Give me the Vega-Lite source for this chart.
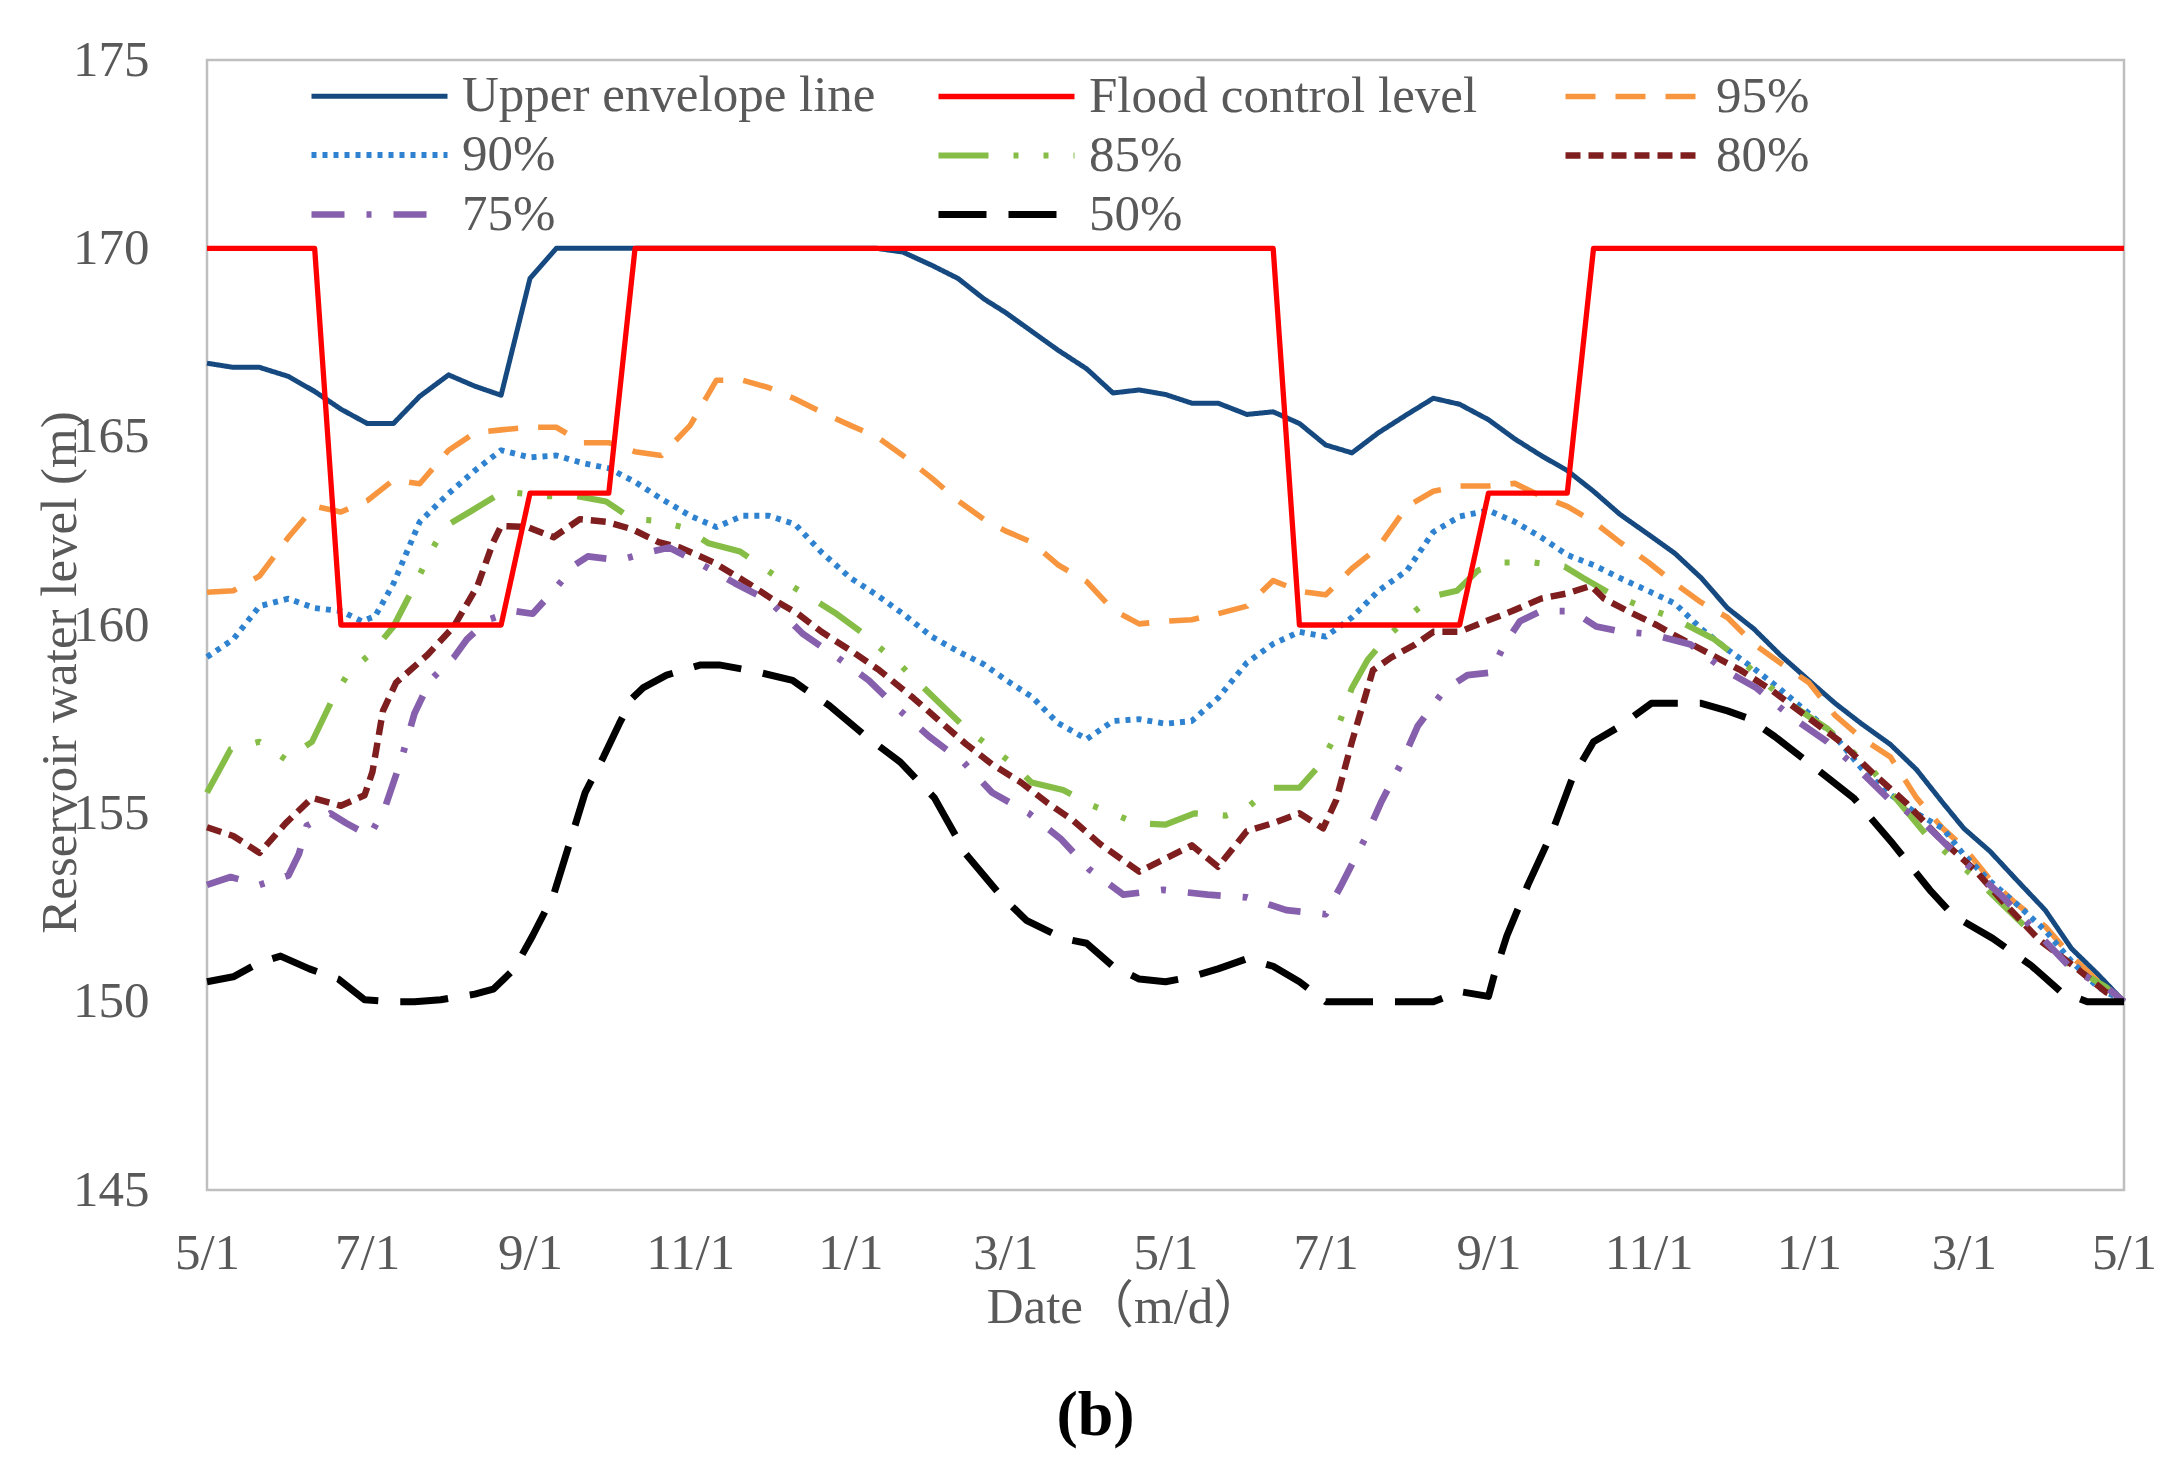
{
"$schema": "https://vega.github.io/schema/vega-lite/v6.json",
"width": 1917, "height": 1130,
"autosize": {"type": "none"},
"padding": {"left": 207, "top": 60, "right": 52, "bottom": 282},
"background": "white",
"title": {"text": "(b)", "orient": "bottom", "anchor": "middle", "frame": "bounds", "font": "Liberation Serif", "fontSize": 64, "fontWeight": "bold", "color": "#000000", "offset": 52},
"config": {
  "view": {"stroke": "#BFBFBF", "strokeWidth": 2.5},
  "axis": {"domain": false, "ticks": false, "grid": false, "labelFont": "Liberation Serif", "labelFontSize": 51, "labelColor": "#595959", "titleFont": "Liberation Serif, Noto Sans CJK SC", "titleFontSize": 51, "titleFontWeight": "normal", "titleColor": "#595959"}
},
"data": {"values": [
{"series":"Upper envelope line","date":"2021/05/01","level":166.95},
{"series":"Upper envelope line","date":"2021/05/11","level":166.84},
{"series":"Upper envelope line","date":"2021/05/21","level":166.84},
{"series":"Upper envelope line","date":"2021/06/01","level":166.6},
{"series":"Upper envelope line","date":"2021/06/11","level":166.2},
{"series":"Upper envelope line","date":"2021/06/21","level":165.73},
{"series":"Upper envelope line","date":"2021/07/01","level":165.35},
{"series":"Upper envelope line","date":"2021/07/11","level":165.35},
{"series":"Upper envelope line","date":"2021/07/21","level":166.07},
{"series":"Upper envelope line","date":"2021/08/01","level":166.64},
{"series":"Upper envelope line","date":"2021/08/11","level":166.34},
{"series":"Upper envelope line","date":"2021/08/21","level":166.1},
{"series":"Upper envelope line","date":"2021/09/01","level":169.2},
{"series":"Upper envelope line","date":"2021/09/11","level":170},
{"series":"Upper envelope line","date":"2022/01/11","level":170},
{"series":"Upper envelope line","date":"2022/01/21","level":169.9},
{"series":"Upper envelope line","date":"2022/02/01","level":169.55},
{"series":"Upper envelope line","date":"2022/02/11","level":169.2},
{"series":"Upper envelope line","date":"2022/02/21","level":168.65},
{"series":"Upper envelope line","date":"2022/03/01","level":168.3},
{"series":"Upper envelope line","date":"2022/03/11","level":167.8},
{"series":"Upper envelope line","date":"2022/03/21","level":167.3},
{"series":"Upper envelope line","date":"2022/04/01","level":166.8},
{"series":"Upper envelope line","date":"2022/04/11","level":166.16},
{"series":"Upper envelope line","date":"2022/04/21","level":166.24},
{"series":"Upper envelope line","date":"2022/05/01","level":166.12},
{"series":"Upper envelope line","date":"2022/05/11","level":165.89},
{"series":"Upper envelope line","date":"2022/05/21","level":165.89},
{"series":"Upper envelope line","date":"2022/06/01","level":165.59},
{"series":"Upper envelope line","date":"2022/06/11","level":165.66},
{"series":"Upper envelope line","date":"2022/06/21","level":165.35},
{"series":"Upper envelope line","date":"2022/07/01","level":164.78},
{"series":"Upper envelope line","date":"2022/07/11","level":164.57},
{"series":"Upper envelope line","date":"2022/07/21","level":165.1},
{"series":"Upper envelope line","date":"2022/08/01","level":165.59},
{"series":"Upper envelope line","date":"2022/08/11","level":166.02},
{"series":"Upper envelope line","date":"2022/08/21","level":165.86},
{"series":"Upper envelope line","date":"2022/09/01","level":165.45},
{"series":"Upper envelope line","date":"2022/09/11","level":164.94},
{"series":"Upper envelope line","date":"2022/09/21","level":164.5},
{"series":"Upper envelope line","date":"2022/10/01","level":164.1},
{"series":"Upper envelope line","date":"2022/10/11","level":163.55},
{"series":"Upper envelope line","date":"2022/10/21","level":162.94},
{"series":"Upper envelope line","date":"2022/11/01","level":162.4},
{"series":"Upper envelope line","date":"2022/11/11","level":161.9},
{"series":"Upper envelope line","date":"2022/11/21","level":161.25},
{"series":"Upper envelope line","date":"2022/12/01","level":160.45},
{"series":"Upper envelope line","date":"2022/12/11","level":159.9},
{"series":"Upper envelope line","date":"2022/12/21","level":159.21},
{"series":"Upper envelope line","date":"2023/01/01","level":158.53},
{"series":"Upper envelope line","date":"2023/01/11","level":157.92},
{"series":"Upper envelope line","date":"2023/01/21","level":157.38},
{"series":"Upper envelope line","date":"2023/02/01","level":156.83},
{"series":"Upper envelope line","date":"2023/02/11","level":156.16},
{"series":"Upper envelope line","date":"2023/02/21","level":155.28},
{"series":"Upper envelope line","date":"2023/03/01","level":154.6},
{"series":"Upper envelope line","date":"2023/03/11","level":153.99},
{"series":"Upper envelope line","date":"2023/03/21","level":153.24},
{"series":"Upper envelope line","date":"2023/04/01","level":152.43},
{"series":"Upper envelope line","date":"2023/04/11","level":151.41},
{"series":"Upper envelope line","date":"2023/04/21","level":150.73},
{"series":"Upper envelope line","date":"2023/05/01","level":150},
{"series":"95%","date":"2021/05/01","level":160.87},
{"series":"95%","date":"2021/05/11","level":160.91},
{"series":"95%","date":"2021/05/21","level":161.3},
{"series":"95%","date":"2021/06/01","level":162.33},
{"series":"95%","date":"2021/06/11","level":163.15},
{"series":"95%","date":"2021/06/21","level":163.0},
{"series":"95%","date":"2021/07/01","level":163.3},
{"series":"95%","date":"2021/07/11","level":163.85},
{"series":"95%","date":"2021/07/21","level":163.75},
{"series":"95%","date":"2021/08/01","level":164.64},
{"series":"95%","date":"2021/08/11","level":165.1},
{"series":"95%","date":"2021/08/21","level":165.18},
{"series":"95%","date":"2021/09/01","level":165.25},
{"series":"95%","date":"2021/09/11","level":165.25},
{"series":"95%","date":"2021/09/21","level":164.84},
{"series":"95%","date":"2021/10/01","level":164.84},
{"series":"95%","date":"2021/10/11","level":164.6},
{"series":"95%","date":"2021/10/21","level":164.5},
{"series":"95%","date":"2021/11/01","level":165.3},
{"series":"95%","date":"2021/11/11","level":166.5},
{"series":"95%","date":"2021/11/21","level":166.5},
{"series":"95%","date":"2021/12/01","level":166.3},
{"series":"95%","date":"2021/12/11","level":166.0},
{"series":"95%","date":"2021/12/21","level":165.65},
{"series":"95%","date":"2022/01/01","level":165.3},
{"series":"95%","date":"2022/01/11","level":165.0},
{"series":"95%","date":"2022/01/21","level":164.5},
{"series":"95%","date":"2022/02/01","level":163.9},
{"series":"95%","date":"2022/02/11","level":163.3},
{"series":"95%","date":"2022/02/21","level":162.8},
{"series":"95%","date":"2022/03/01","level":162.5},
{"series":"95%","date":"2022/03/11","level":162.2},
{"series":"95%","date":"2022/03/21","level":161.6},
{"series":"95%","date":"2022/04/01","level":161.15},
{"series":"95%","date":"2022/04/11","level":160.4},
{"series":"95%","date":"2022/04/21","level":160.03},
{"series":"95%","date":"2022/05/01","level":160.1},
{"series":"95%","date":"2022/05/11","level":160.14},
{"series":"95%","date":"2022/05/21","level":160.3},
{"series":"95%","date":"2022/06/01","level":160.5},
{"series":"95%","date":"2022/06/11","level":161.18},
{"series":"95%","date":"2022/06/21","level":160.9},
{"series":"95%","date":"2022/07/01","level":160.8},
{"series":"95%","date":"2022/07/11","level":161.5},
{"series":"95%","date":"2022/07/21","level":162.06},
{"series":"95%","date":"2022/08/01","level":163.15},
{"series":"95%","date":"2022/08/11","level":163.55},
{"series":"95%","date":"2022/08/21","level":163.69},
{"series":"95%","date":"2022/09/01","level":163.69},
{"series":"95%","date":"2022/09/11","level":163.76},
{"series":"95%","date":"2022/09/21","level":163.42},
{"series":"95%","date":"2022/10/01","level":163.15},
{"series":"95%","date":"2022/10/11","level":162.74},
{"series":"95%","date":"2022/10/21","level":162.2},
{"series":"95%","date":"2022/11/01","level":161.66},
{"series":"95%","date":"2022/11/11","level":161.1},
{"series":"95%","date":"2022/11/21","level":160.6},
{"series":"95%","date":"2022/12/01","level":160.2},
{"series":"95%","date":"2022/12/11","level":159.5},
{"series":"95%","date":"2022/12/21","level":159.0},
{"series":"95%","date":"2023/01/01","level":158.47},
{"series":"95%","date":"2023/01/11","level":157.6},
{"series":"95%","date":"2023/01/21","level":157.0},
{"series":"95%","date":"2023/02/01","level":156.5},
{"series":"95%","date":"2023/02/11","level":155.41},
{"series":"95%","date":"2023/02/21","level":154.6},
{"series":"95%","date":"2023/03/01","level":154.1},
{"series":"95%","date":"2023/03/11","level":153.24},
{"series":"95%","date":"2023/03/21","level":152.6},
{"series":"95%","date":"2023/04/01","level":152.0},
{"series":"95%","date":"2023/04/11","level":151.2},
{"series":"95%","date":"2023/04/21","level":150.55},
{"series":"95%","date":"2023/05/01","level":150},
{"series":"90%","date":"2021/05/01","level":159.15},
{"series":"90%","date":"2021/05/11","level":159.62},
{"series":"90%","date":"2021/05/21","level":160.5},
{"series":"90%","date":"2021/06/01","level":160.7},
{"series":"90%","date":"2021/06/11","level":160.45},
{"series":"90%","date":"2021/06/21","level":160.37},
{"series":"90%","date":"2021/06/29","level":160.1},
{"series":"90%","date":"2021/07/04","level":160.23},
{"series":"90%","date":"2021/07/11","level":161.1},
{"series":"90%","date":"2021/07/21","level":162.74},
{"series":"90%","date":"2021/08/01","level":163.49},
{"series":"90%","date":"2021/08/11","level":164.1},
{"series":"90%","date":"2021/08/21","level":164.64},
{"series":"90%","date":"2021/09/01","level":164.45},
{"series":"90%","date":"2021/09/11","level":164.5},
{"series":"90%","date":"2021/09/21","level":164.3},
{"series":"90%","date":"2021/10/01","level":164.16},
{"series":"90%","date":"2021/10/11","level":163.8},
{"series":"90%","date":"2021/10/21","level":163.35},
{"series":"90%","date":"2021/11/01","level":162.9},
{"series":"90%","date":"2021/11/11","level":162.6},
{"series":"90%","date":"2021/11/21","level":162.9},
{"series":"90%","date":"2021/12/01","level":162.9},
{"series":"90%","date":"2021/12/11","level":162.67},
{"series":"90%","date":"2021/12/21","level":161.93},
{"series":"90%","date":"2022/01/01","level":161.25},
{"series":"90%","date":"2022/01/11","level":160.8},
{"series":"90%","date":"2022/01/21","level":160.3},
{"series":"90%","date":"2022/02/01","level":159.69},
{"series":"90%","date":"2022/02/11","level":159.3},
{"series":"90%","date":"2022/02/21","level":158.95},
{"series":"90%","date":"2022/03/01","level":158.55},
{"series":"90%","date":"2022/03/11","level":158.1},
{"series":"90%","date":"2022/03/21","level":157.4},
{"series":"90%","date":"2022/04/01","level":156.97},
{"series":"90%","date":"2022/04/11","level":157.45},
{"series":"90%","date":"2022/04/21","level":157.5},
{"series":"90%","date":"2022/05/01","level":157.38},
{"series":"90%","date":"2022/05/11","level":157.45},
{"series":"90%","date":"2022/05/21","level":158.06},
{"series":"90%","date":"2022/06/01","level":159.0},
{"series":"90%","date":"2022/06/11","level":159.5},
{"series":"90%","date":"2022/06/21","level":159.82},
{"series":"90%","date":"2022/07/01","level":159.69},
{"series":"90%","date":"2022/07/11","level":160.2},
{"series":"90%","date":"2022/07/21","level":160.9},
{"series":"90%","date":"2022/08/01","level":161.45},
{"series":"90%","date":"2022/08/11","level":162.47},
{"series":"90%","date":"2022/08/21","level":162.88},
{"series":"90%","date":"2022/09/01","level":163.04},
{"series":"90%","date":"2022/09/11","level":162.74},
{"series":"90%","date":"2022/09/21","level":162.33},
{"series":"90%","date":"2022/10/01","level":161.86},
{"series":"90%","date":"2022/10/11","level":161.59},
{"series":"90%","date":"2022/10/21","level":161.25},
{"series":"90%","date":"2022/11/01","level":160.9},
{"series":"90%","date":"2022/11/11","level":160.57},
{"series":"90%","date":"2022/11/21","level":159.9},
{"series":"90%","date":"2022/12/01","level":159.35},
{"series":"90%","date":"2022/12/11","level":158.85},
{"series":"90%","date":"2022/12/21","level":158.3},
{"series":"90%","date":"2023/01/01","level":157.65},
{"series":"90%","date":"2023/01/11","level":157.04},
{"series":"90%","date":"2023/01/21","level":156.2},
{"series":"90%","date":"2023/02/01","level":155.5},
{"series":"90%","date":"2023/02/11","level":155.0},
{"series":"90%","date":"2023/02/21","level":154.6},
{"series":"90%","date":"2023/03/01","level":153.9},
{"series":"90%","date":"2023/03/11","level":153.2},
{"series":"90%","date":"2023/03/21","level":152.6},
{"series":"90%","date":"2023/04/01","level":151.89},
{"series":"90%","date":"2023/04/11","level":151.07},
{"series":"90%","date":"2023/04/21","level":150.39},
{"series":"90%","date":"2023/05/01","level":150},
{"series":"85%","date":"2021/05/01","level":155.55},
{"series":"85%","date":"2021/05/10","level":156.7},
{"series":"85%","date":"2021/05/21","level":156.9},
{"series":"85%","date":"2021/05/31","level":156.43},
{"series":"85%","date":"2021/06/10","level":156.9},
{"series":"85%","date":"2021/06/18","level":158.06},
{"series":"85%","date":"2021/06/24","level":158.74},
{"series":"85%","date":"2021/07/03","level":159.28},
{"series":"85%","date":"2021/07/11","level":159.96},
{"series":"85%","date":"2021/07/20","level":161.18},
{"series":"85%","date":"2021/07/25","level":161.93},
{"series":"85%","date":"2021/07/31","level":162.63},
{"series":"85%","date":"2021/08/09","level":163.0},
{"series":"85%","date":"2021/08/22","level":163.55},
{"series":"85%","date":"2021/08/29","level":163.49},
{"series":"85%","date":"2021/09/08","level":163.42},
{"series":"85%","date":"2021/09/19","level":163.42},
{"series":"85%","date":"2021/09/30","level":163.28},
{"series":"85%","date":"2021/10/10","level":162.81},
{"series":"85%","date":"2021/10/19","level":162.77},
{"series":"85%","date":"2021/10/29","level":162.6},
{"series":"85%","date":"2021/11/08","level":162.17},
{"series":"85%","date":"2021/11/20","level":161.95},
{"series":"85%","date":"2021/12/06","level":161.18},
{"series":"85%","date":"2021/12/16","level":160.77},
{"series":"85%","date":"2021/12/26","level":160.33},
{"series":"85%","date":"2022/01/05","level":159.82},
{"series":"85%","date":"2022/01/20","level":158.94},
{"series":"85%","date":"2022/01/29","level":158.33},
{"series":"85%","date":"2022/02/06","level":157.79},
{"series":"85%","date":"2022/02/14","level":157.25},
{"series":"85%","date":"2022/03/03","level":156.36},
{"series":"85%","date":"2022/03/11","level":155.82},
{"series":"85%","date":"2022/03/23","level":155.62},
{"series":"85%","date":"2022/04/03","level":155.21},
{"series":"85%","date":"2022/04/20","level":154.74},
{"series":"85%","date":"2022/05/01","level":154.7},
{"series":"85%","date":"2022/05/12","level":155.0},
{"series":"85%","date":"2022/05/24","level":154.94},
{"series":"85%","date":"2022/06/01","level":155.14},
{"series":"85%","date":"2022/06/10","level":155.68},
{"series":"85%","date":"2022/06/21","level":155.68},
{"series":"85%","date":"2022/06/29","level":156.3},
{"series":"85%","date":"2022/07/04","level":156.97},
{"series":"85%","date":"2022/07/11","level":158.33},
{"series":"85%","date":"2022/07/17","level":159.08},
{"series":"85%","date":"2022/07/24","level":159.65},
{"series":"85%","date":"2022/08/04","level":160.37},
{"series":"85%","date":"2022/08/11","level":160.77},
{"series":"85%","date":"2022/08/20","level":160.91},
{"series":"85%","date":"2022/08/28","level":161.45},
{"series":"85%","date":"2022/09/07","level":161.66},
{"series":"85%","date":"2022/09/18","level":161.66},
{"series":"85%","date":"2022/09/30","level":161.55},
{"series":"85%","date":"2022/10/07","level":161.25},
{"series":"85%","date":"2022/10/18","level":160.81},
{"series":"85%","date":"2022/10/29","level":160.5},
{"series":"85%","date":"2022/11/09","level":160.23},
{"series":"85%","date":"2022/11/26","level":159.62},
{"series":"85%","date":"2022/12/06","level":159.08},
{"series":"85%","date":"2022/12/23","level":157.99},
{"series":"85%","date":"2023/01/08","level":157.25},
{"series":"85%","date":"2023/01/25","level":156.16},
{"series":"85%","date":"2023/02/15","level":154.4},
{"series":"85%","date":"2023/03/05","level":153.31},
{"series":"85%","date":"2023/03/28","level":151.75},
{"series":"85%","date":"2023/04/11","level":150.94},
{"series":"85%","date":"2023/04/24","level":150.39},
{"series":"85%","date":"2023/05/01","level":150},
{"series":"80%","date":"2021/05/01","level":154.63},
{"series":"80%","date":"2021/05/11","level":154.4},
{"series":"80%","date":"2021/05/21","level":153.95},
{"series":"80%","date":"2021/05/31","level":154.74},
{"series":"80%","date":"2021/06/10","level":155.41},
{"series":"80%","date":"2021/06/21","level":155.2},
{"series":"80%","date":"2021/06/30","level":155.48},
{"series":"80%","date":"2021/07/03","level":156.1},
{"series":"80%","date":"2021/07/07","level":157.72},
{"series":"80%","date":"2021/07/12","level":158.47},
{"series":"80%","date":"2021/07/24","level":159.21},
{"series":"80%","date":"2021/08/03","level":159.96},
{"series":"80%","date":"2021/08/12","level":161.04},
{"series":"80%","date":"2021/08/18","level":162.2},
{"series":"80%","date":"2021/08/21","level":162.63},
{"series":"80%","date":"2021/08/31","level":162.6},
{"series":"80%","date":"2021/09/10","level":162.33},
{"series":"80%","date":"2021/09/20","level":162.81},
{"series":"80%","date":"2021/09/30","level":162.74},
{"series":"80%","date":"2021/10/10","level":162.54},
{"series":"80%","date":"2021/10/20","level":162.2},
{"series":"80%","date":"2021/10/28","level":162.06},
{"series":"80%","date":"2021/11/10","level":161.66},
{"series":"80%","date":"2021/11/23","level":161.11},
{"series":"80%","date":"2021/12/02","level":160.7},
{"series":"80%","date":"2021/12/12","level":160.3},
{"series":"80%","date":"2021/12/21","level":159.82},
{"series":"80%","date":"2022/01/02","level":159.28},
{"series":"80%","date":"2022/01/12","level":158.8},
{"series":"80%","date":"2022/01/25","level":158.06},
{"series":"80%","date":"2022/02/04","level":157.45},
{"series":"80%","date":"2022/02/14","level":156.84},
{"series":"80%","date":"2022/02/24","level":156.3},
{"series":"80%","date":"2022/03/07","level":155.82},
{"series":"80%","date":"2022/03/17","level":155.28},
{"series":"80%","date":"2022/03/27","level":154.8},
{"series":"80%","date":"2022/04/06","level":154.19},
{"series":"80%","date":"2022/04/21","level":153.45},
{"series":"80%","date":"2022/05/11","level":154.15},
{"series":"80%","date":"2022/05/21","level":153.58},
{"series":"80%","date":"2022/06/01","level":154.53},
{"series":"80%","date":"2022/06/11","level":154.74},
{"series":"80%","date":"2022/06/21","level":155.0},
{"series":"80%","date":"2022/06/30","level":154.6},
{"series":"80%","date":"2022/07/05","level":155.35},
{"series":"80%","date":"2022/07/11","level":156.9},
{"series":"80%","date":"2022/07/19","level":158.8},
{"series":"80%","date":"2022/07/26","level":159.14},
{"series":"80%","date":"2022/08/04","level":159.48},
{"series":"80%","date":"2022/08/11","level":159.82},
{"series":"80%","date":"2022/08/21","level":159.82},
{"series":"80%","date":"2022/08/31","level":160.1},
{"series":"80%","date":"2022/09/10","level":160.37},
{"series":"80%","date":"2022/09/21","level":160.7},
{"series":"80%","date":"2022/10/01","level":160.84},
{"series":"80%","date":"2022/10/10","level":161.04},
{"series":"80%","date":"2022/10/15","level":160.7},
{"series":"80%","date":"2022/10/24","level":160.37},
{"series":"80%","date":"2022/11/04","level":160.0},
{"series":"80%","date":"2022/11/10","level":159.76},
{"series":"80%","date":"2022/11/23","level":159.28},
{"series":"80%","date":"2022/12/06","level":158.8},
{"series":"80%","date":"2022/12/18","level":158.26},
{"series":"80%","date":"2022/12/31","level":157.58},
{"series":"80%","date":"2023/01/13","level":156.9},
{"series":"80%","date":"2023/01/25","level":156.09},
{"series":"80%","date":"2023/02/07","level":155.28},
{"series":"80%","date":"2023/02/20","level":154.33},
{"series":"80%","date":"2023/03/05","level":153.51},
{"series":"80%","date":"2023/03/17","level":152.57},
{"series":"80%","date":"2023/03/30","level":151.62},
{"series":"80%","date":"2023/04/12","level":150.94},
{"series":"80%","date":"2023/04/24","level":150.26},
{"series":"80%","date":"2023/05/01","level":150},
{"series":"75%","date":"2021/05/01","level":153.1},
{"series":"75%","date":"2021/05/10","level":153.31},
{"series":"75%","date":"2021/05/21","level":153.1},
{"series":"75%","date":"2021/06/01","level":153.35},
{"series":"75%","date":"2021/06/05","level":153.92},
{"series":"75%","date":"2021/06/08","level":154.67},
{"series":"75%","date":"2021/06/17","level":155.0},
{"series":"75%","date":"2021/06/23","level":154.74},
{"series":"75%","date":"2021/07/02","level":154.4},
{"series":"75%","date":"2021/07/08","level":155.2},
{"series":"75%","date":"2021/07/14","level":156.43},
{"series":"75%","date":"2021/07/19","level":157.65},
{"series":"75%","date":"2021/07/25","level":158.53},
{"series":"75%","date":"2021/08/03","level":159.14},
{"series":"75%","date":"2021/08/08","level":159.62},
{"series":"75%","date":"2021/08/16","level":160.14},
{"series":"75%","date":"2021/08/26","level":160.37},
{"series":"75%","date":"2021/09/02","level":160.3},
{"series":"75%","date":"2021/09/10","level":160.91},
{"series":"75%","date":"2021/09/18","level":161.59},
{"series":"75%","date":"2021/09/23","level":161.82},
{"series":"75%","date":"2021/10/05","level":161.72},
{"series":"75%","date":"2021/10/16","level":161.93},
{"series":"75%","date":"2021/10/24","level":162.06},
{"series":"75%","date":"2021/11/04","level":161.66},
{"series":"75%","date":"2021/11/18","level":161.11},
{"series":"75%","date":"2021/12/01","level":160.64},
{"series":"75%","date":"2021/12/14","level":159.76},
{"series":"75%","date":"2021/12/27","level":159.14},
{"series":"75%","date":"2022/01/08","level":158.53},
{"series":"75%","date":"2022/01/20","level":157.72},
{"series":"75%","date":"2022/01/31","level":157.04},
{"series":"75%","date":"2022/02/13","level":156.36},
{"series":"75%","date":"2022/02/24","level":155.55},
{"series":"75%","date":"2022/03/10","level":155.0},
{"series":"75%","date":"2022/03/22","level":154.33},
{"series":"75%","date":"2022/04/02","level":153.51},
{"series":"75%","date":"2022/04/15","level":152.84},
{"series":"75%","date":"2022/04/30","level":152.97},
{"series":"75%","date":"2022/05/17","level":152.84},
{"series":"75%","date":"2022/06/01","level":152.77},
{"series":"75%","date":"2022/06/16","level":152.43},
{"series":"75%","date":"2022/07/01","level":152.32},
{"series":"75%","date":"2022/07/07","level":153.1},
{"series":"75%","date":"2022/07/16","level":154.33},
{"series":"75%","date":"2022/07/22","level":155.28},
{"series":"75%","date":"2022/07/30","level":156.36},
{"series":"75%","date":"2022/08/05","level":157.31},
{"series":"75%","date":"2022/08/15","level":158.26},
{"series":"75%","date":"2022/08/24","level":158.67},
{"series":"75%","date":"2022/09/02","level":158.74},
{"series":"75%","date":"2022/09/07","level":159.48},
{"series":"75%","date":"2022/09/13","level":160.1},
{"series":"75%","date":"2022/09/21","level":160.37},
{"series":"75%","date":"2022/10/03","level":160.37},
{"series":"75%","date":"2022/10/12","level":159.96},
{"series":"75%","date":"2022/10/22","level":159.82},
{"series":"75%","date":"2022/11/02","level":159.76},
{"series":"75%","date":"2022/11/17","level":159.48},
{"series":"75%","date":"2022/11/30","level":158.8},
{"series":"75%","date":"2022/12/12","level":158.33},
{"series":"75%","date":"2022/12/25","level":157.58},
{"series":"75%","date":"2023/01/08","level":156.9},
{"series":"75%","date":"2023/01/19","level":156.23},
{"series":"75%","date":"2023/01/31","level":155.41},
{"series":"75%","date":"2023/02/15","level":154.67},
{"series":"75%","date":"2023/02/28","level":153.78},
{"series":"75%","date":"2023/03/15","level":152.84},
{"series":"75%","date":"2023/03/30","level":151.75},
{"series":"75%","date":"2023/04/12","level":150.8},
{"series":"75%","date":"2023/04/23","level":150.46},
{"series":"75%","date":"2023/05/01","level":150},
{"series":"50%","date":"2021/05/01","level":150.53},
{"series":"50%","date":"2021/05/11","level":150.66},
{"series":"50%","date":"2021/05/21","level":151.04},
{"series":"50%","date":"2021/05/29","level":151.21},
{"series":"50%","date":"2021/06/09","level":150.87},
{"series":"50%","date":"2021/06/20","level":150.6},
{"series":"50%","date":"2021/06/30","level":150.05},
{"series":"50%","date":"2021/07/11","level":150.0},
{"series":"50%","date":"2021/07/19","level":150.0},
{"series":"50%","date":"2021/07/29","level":150.05},
{"series":"50%","date":"2021/08/11","level":150.2},
{"series":"50%","date":"2021/08/18","level":150.33},
{"series":"50%","date":"2021/08/26","level":150.87},
{"series":"50%","date":"2021/09/02","level":151.75},
{"series":"50%","date":"2021/09/10","level":152.84},
{"series":"50%","date":"2021/09/16","level":154.19},
{"series":"50%","date":"2021/09/22","level":155.55},
{"series":"50%","date":"2021/09/29","level":156.5},
{"series":"50%","date":"2021/10/05","level":157.38},
{"series":"50%","date":"2021/10/10","level":158.06},
{"series":"50%","date":"2021/10/14","level":158.33},
{"series":"50%","date":"2021/10/23","level":158.67},
{"series":"50%","date":"2021/11/05","level":158.94},
{"series":"50%","date":"2021/11/12","level":158.94},
{"series":"50%","date":"2021/11/25","level":158.78},
{"series":"50%","date":"2021/12/10","level":158.53},
{"series":"50%","date":"2021/12/14","level":158.33},
{"series":"50%","date":"2021/12/24","level":157.86},
{"series":"50%","date":"2022/01/07","level":157.04},
{"series":"50%","date":"2022/01/20","level":156.36},
{"series":"50%","date":"2022/02/02","level":155.41},
{"series":"50%","date":"2022/02/14","level":153.92},
{"series":"50%","date":"2022/02/27","level":152.84},
{"series":"50%","date":"2022/03/09","level":152.16},
{"series":"50%","date":"2022/03/23","level":151.68},
{"series":"50%","date":"2022/04/01","level":151.55},
{"series":"50%","date":"2022/04/11","level":150.94},
{"series":"50%","date":"2022/04/21","level":150.6},
{"series":"50%","date":"2022/05/01","level":150.53},
{"series":"50%","date":"2022/05/11","level":150.66},
{"series":"50%","date":"2022/05/21","level":150.87},
{"series":"50%","date":"2022/06/01","level":151.14},
{"series":"50%","date":"2022/06/11","level":150.94},
{"series":"50%","date":"2022/06/21","level":150.53},
{"series":"50%","date":"2022/07/01","level":150.0},
{"series":"50%","date":"2022/08/11","level":150.0},
{"series":"50%","date":"2022/08/21","level":150.27},
{"series":"50%","date":"2022/09/01","level":150.14},
{"series":"50%","date":"2022/09/03","level":150.66},
{"series":"50%","date":"2022/09/08","level":151.75},
{"series":"50%","date":"2022/09/16","level":153.1},
{"series":"50%","date":"2022/09/25","level":154.46},
{"series":"50%","date":"2022/10/03","level":155.95},
{"series":"50%","date":"2022/10/11","level":156.9},
{"series":"50%","date":"2022/10/21","level":157.31},
{"series":"50%","date":"2022/11/02","level":157.92},
{"series":"50%","date":"2022/11/21","level":157.92},
{"series":"50%","date":"2022/12/01","level":157.72},
{"series":"50%","date":"2022/12/09","level":157.52},
{"series":"50%","date":"2022/12/19","level":157.04},
{"series":"50%","date":"2023/01/03","level":156.23},
{"series":"50%","date":"2023/01/18","level":155.41},
{"series":"50%","date":"2023/02/02","level":154.19},
{"series":"50%","date":"2023/02/16","level":152.97},
{"series":"50%","date":"2023/02/25","level":152.29},
{"series":"50%","date":"2023/03/12","level":151.68},
{"series":"50%","date":"2023/03/27","level":150.94},
{"series":"50%","date":"2023/04/07","level":150.26},
{"series":"50%","date":"2023/04/17","level":150.0},
{"series":"50%","date":"2023/05/01","level":150.0},
{"series":"Flood control level","date":"2021/05/01","level":170},
{"series":"Flood control level","date":"2021/06/11","level":170},
{"series":"Flood control level","date":"2021/06/21","level":160},
{"series":"Flood control level","date":"2021/08/21","level":160},
{"series":"Flood control level","date":"2021/09/01","level":163.5},
{"series":"Flood control level","date":"2021/10/01","level":163.5},
{"series":"Flood control level","date":"2021/10/11","level":170},
{"series":"Flood control level","date":"2022/06/11","level":170},
{"series":"Flood control level","date":"2022/06/21","level":160},
{"series":"Flood control level","date":"2022/08/21","level":160},
{"series":"Flood control level","date":"2022/09/01","level":163.5},
{"series":"Flood control level","date":"2022/10/01","level":163.5},
{"series":"Flood control level","date":"2022/10/11","level":170},
{"series":"Flood control level","date":"2023/05/01","level":170}
]},
"mark": {"type": "line", "strokeJoin": "round"},
"encoding": {
  "x": {"field": "date", "type": "temporal",
    "scale": {"domain": [{"year": 2021, "month": 5, "date": 1}, {"year": 2023, "month": 5, "date": 1}]},
    "axis": {"values": [
      {"year": 2021, "month": 5, "date": 1}, {"year": 2021, "month": 7, "date": 1}, {"year": 2021, "month": 9, "date": 1},
      {"year": 2021, "month": 11, "date": 1}, {"year": 2022, "month": 1, "date": 1}, {"year": 2022, "month": 3, "date": 1},
      {"year": 2022, "month": 5, "date": 1}, {"year": 2022, "month": 7, "date": 1}, {"year": 2022, "month": 9, "date": 1},
      {"year": 2022, "month": 11, "date": 1}, {"year": 2023, "month": 1, "date": 1}, {"year": 2023, "month": 3, "date": 1},
      {"year": 2023, "month": 5, "date": 1}],
      "format": "%-m/%-d", "labelPadding": 38, "labelOverlap": false, "labelBound": false, "labelFlush": false,
      "title": "Date（m/d）", "titlePadding": 4, "titleX": 918}},
  "y": {"field": "level", "type": "quantitative",
    "scale": {"domain": [145, 175], "nice": false, "zero": false},
    "axis": {"values": [145, 150, 155, 160, 165, 170, 175], "labelPadding": 58, "title": "Reservoir water level (m)", "titlePadding": -14, "titleY": 612}},
  "color": {"field": "series", "type": "nominal",
    "scale": {"domain": ["Upper envelope line", "Flood control level", "95%", "90%", "85%", "80%", "75%", "50%"],
      "range": ["#15497F", "#FF0000", "#F7963F", "#2E82D0", "#86BD47", "#7F1E1E", "#8660AC", "#000000"]},
    "legend": {"title": null, "orient": "none", "direction": "horizontal", "legendX": 187, "legendY": 8, "columns": 3, "gridAlign": "all",
      "columnPadding": 48, "rowPadding": 5, "padding": 0, "symbolType": "M-4.44,0H1", "symbolSize": 2500,
      "labelFont": "Liberation Serif", "labelFontSize": 51, "labelColor": "#595959", "labelOffset": 11, "labelLimit": 1000}},
  "strokeDash": {"field": "series", "type": "nominal",
    "scale": {"domain": ["Upper envelope line", "Flood control level", "95%", "90%", "85%", "80%", "75%", "50%"],
      "range": [[1, 0], [1, 0], [30, 20], [5, 6], [50, 25, 5, 25, 5, 25], [15, 8], [33, 22, 5, 22], [48, 22]]}},
  "strokeWidth": {"field": "series", "type": "nominal",
    "scale": {"domain": ["Upper envelope line", "Flood control level", "95%", "90%", "85%", "80%", "75%", "50%"],
      "range": [5, 7, 5, 5, 5.5, 6.5, 5.5, 6.5]}}
}
}
